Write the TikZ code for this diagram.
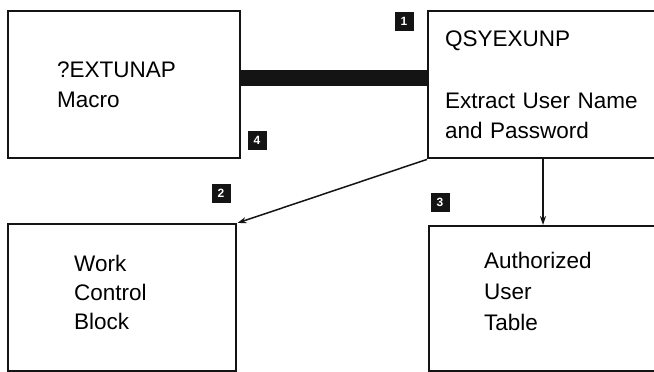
\documentclass[tikz,border=0pt]{standalone}
\usepackage{fontspec}
\setmainfont{Liberation Sans}
\usepackage{tikz}
\usetikzlibrary{arrows.meta, positioning, calc}
\definecolor{ink}{RGB}{20,20,20}
\tikzset{
  box/.style={rectangle, draw=ink, line width=2.4pt, anchor=north west,
    align=left, font=\fontsize{22.5}{29}\selectfont, inner ysep=0pt},
  numbox/.style={rectangle, fill=ink, text=white, minimum size=19pt,
    inner sep=0pt, font=\bfseries\fontsize{12}{12}\selectfont},
  arrow/.style={-{Stealth[length=9pt, width=6pt]}, line width=1.5pt, color=ink},
  bar/.style={line width=16pt, color=ink}
}

\begin{document}
\begin{tikzpicture}[x=1pt, y=-1pt]
  \useasboundingbox (0,0) rectangle (654,372);
  \clip (0,0) rectangle (654,372);

  % top row
  \node[box, minimum width=230pt, minimum height=147pt, text width=134pt, inner xsep=49pt] (macro) at (7,10) {?EXTUNAP\\[1pt]Macro};
  \node[box, minimum width=250pt, minimum height=147pt, text width=216pt, inner xsep=17pt] (qsy) at (427,10) {QSYEXUNP\\[33pt]Extract User Name\\[1pt]and Password};

  % bottom row
  \node[box, minimum width=228pt, minimum height=147pt, text width=96pt, inner xsep=66pt, text depth=68pt] (wcb) at (7,223) {Work\\Control\\Block};
  \node[box, minimum width=250pt, minimum height=145pt, text width=140pt, inner xsep=55pt, text depth=76pt] (aut) at (428,225) {Authorized\\[2pt]User\\[2pt]Table};

  % connectors
  \draw[bar] ([yshift=7pt]macro.east) -- ([yshift=7pt]macro.east -| qsy.west);
  \draw[arrow] (qsy.south west) -- (wcb.north east);
  \draw[arrow] ([xshift=116pt]qsy.south west) -- ([xshift=116pt]qsy.south west |- aut.north);

  % step numbers
  \node[numbox] (n1) at (404,21) {1};
  \node[numbox] (n2) at (221,193) {2};
  \node[numbox] (n3) at (440,202) {3};
  \node[numbox] (n4) at (257,140) {4};
\end{tikzpicture}
\end{document}
